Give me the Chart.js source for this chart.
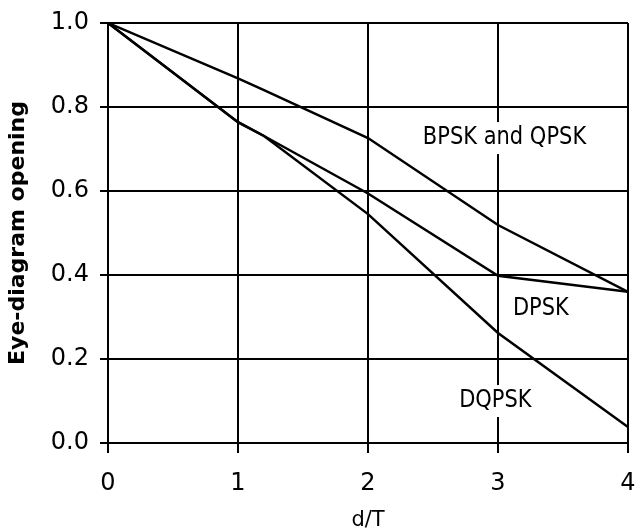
<!DOCTYPE html>
<html>
<head>
<meta charset="utf-8">
<script src="https://cdn.jsdelivr.net/npm/chart.js@4"></script>
<style>
  html, body { margin: 0; padding: 0; background: #fff; }
  #wrap { width: 637px; height: 531px; }
</style>
</head>
<body>
<div id="wrap"><canvas id="eye-chart"></canvas></div>
<script>
// d/T values and eye-diagram opening
const dTValues = [0, 1, 1.2, 2, 3, 4];
const bpskQpsk = [1.0, 0.868, 0.84, 0.726, 0.519, 0.36];
const dpsk = [1.0, 0.764, 0.731, 0.594, 0.398, 0.36];
const dqpsk = [1.0, 0.764, 0.731, 0.545, 0.262, 0.038];

const curveNames = ["BPSK and QPSK", "DPSK", "DQPSK"];
// where each curve name sits, in data units (d/T, opening)
const labelX = [3.05, 3.33, 2.98];
const labelY = [0.726, 0.32, 0.10];

const FONT = "'DejaVu Sans', 'Liberation Sans', Arial, sans-serif";

function toPoints(values) {
  return dTValues.map((x, i) => ({ x: x, y: values[i] }));
}

function lineDataset(name, values) {
  return {
    label: name,
    data: toPoints(values),
    borderColor: "#000",
    borderWidth: 2.5,
    pointRadius: 0,
    tension: 0,
    fill: false,
  };
}

// writes the curve names on a white patch, like the original figure
const curveLabels = {
  id: "curveLabels",
  afterDatasetsDraw(chart) {
    const { ctx, scales } = chart;
    ctx.save();
    ctx.font = "21px " + FONT;
    ctx.textAlign = "center";
    ctx.textBaseline = "middle";
    curveNames.forEach((name, i) => {
      const px = scales.x.getPixelForValue(labelX[i]);
      const py = scales.y.getPixelForValue(labelY[i]);
      const w = ctx.measureText(name).width;
      ctx.fillStyle = "#fff";
      ctx.fillRect(px - w / 2 - 4, py - 16, w + 8, 32);
      ctx.fillStyle = "#000";
      ctx.save();
      ctx.translate(px, py);
      ctx.scale(1, 1.15);
      ctx.fillText(name, 0, 0);
      ctx.restore();
    });
    ctx.restore();
  },
};

new Chart(document.querySelector("#eye-chart"), {
  type: "line",
  data: {
    datasets: [
      lineDataset(curveNames[0], bpskQpsk),
      lineDataset(curveNames[1], dpsk),
      lineDataset(curveNames[2], dqpsk),
    ],
  },
  options: {
    responsive: true,
    maintainAspectRatio: false,
    animation: false,
    layout: { padding: { top: 23, right: 9, left: 0, bottom: 0 } },
    plugins: {
      legend: { display: false },
      tooltip: { enabled: false },
    },
    scales: {
      x: {
        type: "linear",
        min: 0,
        max: 4,
        ticks: {
          stepSize: 1,
          color: "#000",
          padding: 16,
          font: { family: FONT, size: 24 },
        },
        grid: { color: "#000", lineWidth: 2, tickLength: 10 },
        border: { color: "#000", width: 2 },
        title: {
          display: true,
          text: "d/T",
          color: "#000",
          font: { family: FONT, size: 21, lineHeight: 1 },
          padding: { top: 0, bottom: 0 },
        },
        afterFit(scale) {
          scale.height = 88;
          scale.paddingLeft = 0;
          scale.paddingRight = 0;
        },
      },
      y: {
        min: 0,
        max: 1,
        ticks: {
          stepSize: 0.2,
          color: "#000",
          padding: 11,
          font: { family: FONT, size: 24 },
          callback: (v) => Number(v).toFixed(1),
        },
        grid: { color: "#000", lineWidth: 2, tickLength: 8 },
        border: { color: "#000", width: 2 },
        title: {
          display: true,
          text: "Eye-diagram opening",
          color: "#000",
          font: { family: FONT, size: 22, weight: "bold" },
          padding: { top: 5, bottom: 0 },
        },
        afterFit(scale) {
          scale.width = 108;
          scale.paddingTop = 0;
          scale.paddingBottom = 0;
        },
      },
    },
  },
  plugins: [curveLabels],
});
</script>
</body>
</html>
